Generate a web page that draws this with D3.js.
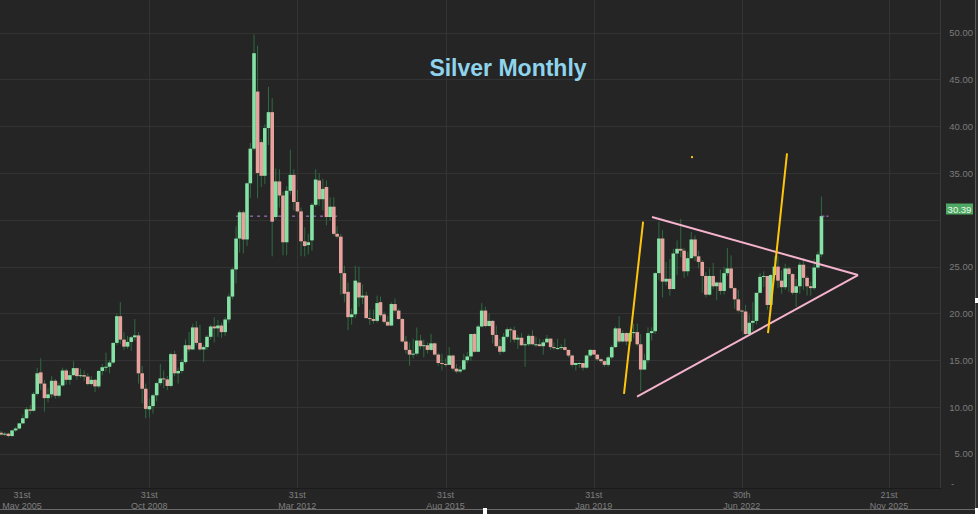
<!DOCTYPE html>
<html>
<head>
<meta charset="utf-8">
<script src="https://cdn.jsdelivr.net/npm/d3@7"></script>
<style>
  html, body { margin: 0; padding: 0; background: #252525; }
  svg { display: block; }
</style>
</head>
<body>
<div id="chart"></div>
<script>
// ---- DATA (monthly candles, first month Jun 2005) ----
const title = "Silver Monthly";
const firstMonth = [2005, 5]; // year, monthIndex (June 2005)
const opens = [
  // 2005 Jun-Dec
  7.25, 7.05, 7.15, 6.90, 7.50, 7.70, 8.25,
  // 2006
  8.80, 9.75, 9.60, 11.40, 13.70, 12.50, 10.95, 11.35, 12.80, 11.20, 12.30, 13.90,
  // 2007
  12.90, 13.40, 14.15, 13.30, 13.40, 13.25, 12.45, 12.90, 12.20, 13.85, 14.25, 14.30,
  // 2008
  14.75, 16.85, 19.70, 17.20, 16.45, 16.95, 17.45, 17.65, 13.60, 11.95, 9.75, 10.10,
  // 2009
  11.25, 12.55, 13.05, 12.95, 12.25, 15.65, 13.60, 13.85, 14.80, 16.60, 16.15, 18.50,
  // 2010
  16.85, 16.15, 16.40, 17.50, 18.60, 18.40, 18.70, 18.00, 19.35, 21.80, 24.70, 28.00,
  // 2011
  30.80, 27.90, 33.90, 37.60, 43.70, 38.30, 34.70, 39.80, 41.50, 30.30, 34.10, 32.60,
  // 2012
  27.60, 33.10, 34.80, 31.90, 30.90, 27.70, 27.30, 27.80, 31.60, 34.20, 32.20, 33.50,
  // 2013
  30.30, 31.40, 28.50, 28.20, 24.30, 22.30, 19.60, 19.90, 23.30, 21.70, 21.90, 19.50,
  // 2014
  19.40, 19.20, 21.20, 19.90, 19.10, 18.70, 21.00, 20.30, 19.40, 17.00, 16.10, 15.60,
  // 2015
  15.70, 17.10, 16.50, 16.60, 16.10, 16.80, 15.60, 14.70, 14.60, 14.50, 15.50, 14.10,
  // 2016
  13.80, 14.00, 15.00, 15.40, 17.80, 15.90, 18.60, 20.30, 18.65, 19.20, 17.70, 16.50,
  // 2017
  15.90, 17.50, 18.30, 18.20, 17.20, 17.40, 16.60, 16.70, 17.60, 16.70, 16.70, 16.50,
  // 2018
  16.90, 17.30, 16.40, 16.30, 16.30, 16.40, 16.10, 15.50, 14.50, 14.70, 14.70, 14.20,
  // 2019
  15.50, 16.10, 15.60, 15.10, 14.90, 14.50, 15.30, 16.40, 18.40, 17.00, 17.90, 17.00,
  // 2020
  17.90, 18.00, 16.70, 14.00, 15.00, 17.90, 18.10, 24.30, 28.00, 23.40, 23.70, 22.60,
  // 2021
  26.40, 26.90, 26.70, 24.50, 25.90, 27.90, 26.10, 25.50, 24.00, 22.00, 24.00, 22.90,
  // 2022
  23.30, 22.40, 24.30, 24.80, 22.70, 21.50, 20.30, 20.20, 17.80, 19.00, 19.20, 22.20,
  // 2023
  23.90, 24.00, 20.90, 24.10, 25.00, 23.50, 22.80, 24.80, 24.20, 22.20, 22.90, 25.20,
  // 2024 Jan-May
  23.80, 22.90, 22.70, 24.90, 26.30
];
const highs = [
  7.45, 7.30, 7.25, 7.55, 7.85, 8.35, 9.20,
  10.00, 10.20, 11.60, 14.20, 15.20, 12.90, 12.00, 13.30, 13.00, 12.60, 14.20, 14.10,
  13.80, 14.90, 14.20, 14.10, 13.90, 13.60, 13.30, 13.00, 13.95, 14.60, 15.80, 15.00,
  16.90, 20.00, 21.20, 18.00, 17.60, 17.60, 19.40, 18.00, 14.40, 12.50, 10.90, 11.40,
  12.70, 14.60, 13.90, 13.30, 15.80, 16.00, 14.20, 15.10, 17.20, 18.00, 18.90, 19.20,
  18.80, 16.60, 17.70, 18.80, 19.60, 19.30, 19.00, 19.60, 22.10, 24.90, 29.30, 31.00,
  31.00, 34.00, 38.20, 49.80, 48.60, 38.60, 40.20, 44.20, 43.00, 35.50, 35.40, 33.00,
  33.60, 37.50, 35.40, 33.20, 31.30, 29.20, 28.50, 31.80, 35.40, 35.00, 34.40, 34.20,
  32.40, 32.40, 29.30, 28.50, 25.10, 23.30, 20.50, 25.10, 25.00, 23.10, 22.30, 20.40,
  20.40, 21.90, 21.80, 20.20, 19.70, 21.20, 21.60, 20.50, 19.50, 17.60, 16.90, 17.30,
  18.50, 17.70, 17.20, 16.90, 17.80, 16.90, 15.80, 15.70, 15.20, 16.40, 15.60, 14.60,
  14.40, 15.70, 15.90, 17.80, 17.90, 18.80, 21.10, 20.70, 20.00, 19.30, 18.70, 17.30,
  17.90, 18.50, 18.50, 18.60, 17.70, 17.90, 16.90, 17.80, 18.20, 17.50, 17.30, 17.20,
  17.70, 17.40, 16.90, 17.30, 16.70, 17.30, 16.10, 15.60, 14.70, 14.80, 14.70, 15.60,
  16.20, 16.10, 15.60, 15.20, 15.00, 15.50, 16.60, 18.60, 19.70, 18.20, 18.00, 18.10,
  18.90, 18.90, 17.80, 15.70, 18.50, 18.50, 24.40, 29.80, 28.90, 25.50, 25.80, 26.90,
  27.80, 30.10, 27.00, 26.60, 28.70, 28.30, 26.70, 25.70, 24.40, 24.80, 25.40, 23.40,
  24.70, 25.00, 27.00, 26.20, 22.80, 22.50, 20.40, 20.90, 19.90, 21.20, 22.20, 24.30,
  24.50, 24.00, 24.20, 26.10, 26.10, 24.60, 25.30, 25.00, 24.30, 23.70, 25.50, 25.90,
  24.00, 23.40, 25.80, 26.60, 32.50
];
const lows = [
  6.95, 6.90, 6.75, 6.80, 7.35, 7.60, 8.20,
  8.75, 9.20, 9.50, 11.20, 11.80, 9.50, 10.50, 11.00, 10.90, 11.00, 12.20, 12.40,
  12.40, 13.30, 12.90, 13.10, 12.80, 12.30, 12.30, 11.60, 12.00, 13.40, 13.80, 13.60,
  14.60, 16.60, 16.70, 16.10, 16.20, 16.00, 17.10, 12.50, 10.40, 8.80, 8.90, 9.30,
  10.60, 12.30, 12.00, 11.80, 12.10, 13.30, 12.50, 13.60, 14.60, 15.90, 16.10, 16.60,
  16.00, 14.80, 16.10, 17.20, 16.90, 17.50, 17.40, 17.60, 19.00, 21.50, 23.20, 26.50,
  26.40, 27.20, 32.30, 37.40, 32.30, 33.50, 33.80, 38.00, 26.10, 30.00, 31.30, 26.20,
  26.20, 32.70, 31.00, 30.80, 26.10, 26.10, 26.30, 26.70, 31.40, 31.50, 31.00, 29.40,
  29.90, 28.30, 28.00, 22.00, 21.20, 18.20, 18.80, 19.50, 20.70, 21.00, 19.40, 18.80,
  18.90, 19.00, 19.60, 18.90, 18.70, 18.70, 20.10, 19.30, 16.90, 15.70, 14.40, 15.20,
  15.50, 16.20, 15.30, 15.70, 16.00, 15.50, 14.40, 13.90, 14.30, 14.50, 13.90, 13.60,
  13.60, 13.90, 14.70, 14.90, 15.80, 15.90, 18.50, 18.50, 18.60, 16.80, 16.30, 15.60,
  15.80, 17.30, 16.90, 16.90, 16.20, 16.50, 14.30, 16.50, 16.60, 16.40, 16.50, 15.60,
  16.90, 16.10, 16.10, 16.10, 16.10, 16.00, 15.30, 14.30, 13.90, 14.20, 13.90, 14.10,
  15.30, 15.60, 14.90, 14.70, 14.30, 14.30, 15.10, 16.30, 16.80, 16.90, 16.60, 16.70,
  17.40, 16.50, 11.70, 14.00, 14.70, 17.10, 17.80, 23.50, 21.70, 23.00, 21.90, 22.60,
  24.10, 26.00, 23.80, 24.00, 25.80, 25.60, 24.80, 22.20, 21.70, 21.90, 22.60, 21.40,
  22.00, 22.00, 24.00, 22.60, 20.50, 20.10, 18.10, 17.60, 17.60, 18.10, 18.80, 22.10,
  22.80, 20.40, 19.90, 23.60, 22.70, 22.10, 22.50, 22.30, 22.00, 20.70, 22.10, 22.50,
  21.90, 21.90, 22.50, 24.70, 26.00
];
const closes = [
  7.05, 7.15, 6.90, 7.50, 7.70, 8.25, 8.80,
  9.75, 9.60, 11.40, 13.60, 12.50, 10.95, 11.35, 12.80, 11.20, 12.30, 13.90, 12.90,
  13.40, 14.15, 13.30, 13.40, 13.25, 12.45, 12.90, 12.20, 13.85, 14.25, 14.30, 14.75,
  16.85, 19.70, 17.20, 16.45, 16.95, 17.45, 17.65, 13.60, 11.95, 9.80, 10.10, 11.25,
  12.55, 13.05, 12.95, 12.25, 15.65, 13.60, 13.85, 14.80, 16.60, 16.15, 18.50, 16.85,
  16.15, 16.40, 17.50, 18.60, 18.40, 18.70, 18.00, 19.35, 21.80, 24.70, 28.00, 30.80,
  27.90, 33.90, 37.60, 47.80, 35.00, 34.70, 39.80, 41.50, 29.80, 34.10, 32.60, 27.60,
  33.10, 34.80, 31.90, 30.90, 27.70, 27.20, 27.60, 31.60, 34.30, 32.20, 33.30, 30.30,
  31.40, 28.50, 28.20, 24.30, 22.10, 19.60, 19.90, 23.50, 21.70, 21.90, 19.50, 19.40,
  19.20, 21.10, 19.80, 19.10, 18.70, 21.00, 20.30, 19.40, 17.00, 16.10, 15.60, 15.70,
  17.10, 16.50, 16.60, 16.10, 16.80, 15.60, 14.70, 14.60, 14.50, 15.50, 14.10, 13.80,
  14.00, 15.00, 15.40, 17.80, 15.90, 18.60, 20.30, 18.65, 19.20, 17.70, 16.50, 15.90,
  17.50, 18.30, 18.20, 17.20, 17.40, 16.60, 16.70, 17.60, 16.70, 16.70, 16.50, 16.90,
  17.30, 16.40, 16.30, 16.30, 16.40, 16.10, 15.50, 14.50, 14.70, 14.70, 14.20, 15.50,
  16.10, 15.60, 15.10, 14.90, 14.50, 15.30, 16.40, 18.40, 17.00, 17.90, 17.00, 17.90,
  18.00, 16.70, 14.00, 15.00, 17.90, 18.10, 24.30, 28.00, 23.40, 23.70, 22.60, 26.40,
  26.90, 26.70, 24.50, 25.90, 27.90, 26.10, 25.50, 24.00, 22.00, 24.00, 22.90, 23.30,
  22.40, 24.30, 24.80, 22.70, 21.50, 20.30, 20.20, 17.80, 19.00, 19.20, 22.20, 23.90,
  24.00, 20.90, 24.10, 25.00, 23.50, 22.80, 24.80, 24.20, 22.20, 22.90, 25.20, 23.80,
  22.90, 22.70, 24.90, 26.30, 30.39
];
const lastPrice = 30.39;
const yTicks = [5, 10, 15, 20, 25, 30, 35, 40, 45, 50];
const xTickDates = ["2008-10-31", "2012-03-31", "2015-08-31", "2019-01-31", "2022-06-30", "2025-11-21"];
const xTickLabels = [
  ["31st", "May 2005"], ["31st", "Oct 2008"], ["31st", "Mar 2012"], ["31st", "Aug 2015"],
  ["31st", "Jan 2019"], ["30th", "Jun 2022"], ["21st", "Nov 2025"]
];
// Annotations (date, price)
const orangeLines = [
  [["2019-10-12", 11.4], ["2020-03-21", 29.8]],
  [["2023-02-06", 17.9], ["2023-07-16", 37.1]]
];
const orangeDot = ["2021-05-07", 36.7];
const pinkLines = [
  [["2020-06-04", 30.3], ["2025-03-05", 24.1]],
  [["2020-01-30", 11.1], ["2025-03-05", 24.1]]
];
const priceLineSpan = ["2010-11-01", "2013-03-01"];

// ---- LAYOUT ----
const W = 978, H = 514;
const plotRight = 940, plotBottom = 488;
const font = "'Liberation Sans', Arial, Helvetica, sans-serif";
const parse = d3.utcParse("%Y-%m-%d");
const pd = s => { const d = parse(s); return new Date(d.getUTCFullYear(), d.getUTCMonth(), d.getUTCDate()); };

const x = d3.scaleTime()
  .domain([new Date(2005, 4, 31), new Date(2025, 10, 21)])
  .range([1, 889]);
const y = d3.scaleLinear().domain([0, 50]).range([500.6, 32.6]);

const candles = closes.map((c, i) => ({
  date: new Date(firstMonth[0], firstMonth[1] + i, 1),
  o: opens[i], h: highs[i], l: lows[i], c: c
}));

const svg = d3.select("#chart").append("svg")
  .attr("width", W).attr("height", H);

svg.append("rect").attr("width", W).attr("height", H).attr("fill", "#252525");

// clip
svg.append("defs").append("clipPath").attr("id", "plotclip")
  .append("rect").attr("x", 0).attr("y", 0).attr("width", plotRight).attr("height", plotBottom);

// grid
const grid = svg.append("g");
grid.selectAll("line.h").data(yTicks).join("line")
  .attr("x1", 0).attr("x2", plotRight)
  .attr("y1", d => Math.round(y(d)) + 0.5).attr("y2", d => Math.round(y(d)) + 0.5)
  .attr("stroke", "#333333").attr("stroke-width", 1);
grid.selectAll("line.v").data(xTickDates).join("line")
  .attr("y1", 0).attr("y2", plotBottom)
  .attr("x1", d => Math.round(x(pd(d))) + 0.5).attr("x2", d => Math.round(x(pd(d))) + 0.5)
  .attr("stroke", "#333333").attr("stroke-width", 1);

// title
svg.append("text").attr("x", 508).attr("y", 76)
  .attr("text-anchor", "middle")
  .attr("font-family", font).attr("font-weight", "bold").attr("font-size", 23)
  .attr("fill", "#8fd4ec").text(title);

const plot = svg.append("g").attr("clip-path", "url(#plotclip)");

// dashed price line segment
plot.append("line")
  .attr("x1", x(pd(priceLineSpan[0]))).attr("x2", x(pd(priceLineSpan[1])))
  .attr("y1", y(lastPrice)).attr("y2", y(lastPrice))
  .attr("stroke", "#b585dc").attr("stroke-width", 1).attr("stroke-dasharray", "3,4");

// candles
const bw = 3.6;
const cg = plot.selectAll("g.c").data(candles).join("g");
cg.append("line")
  .attr("x1", d => x(d.date)).attr("x2", d => x(d.date))
  .attr("y1", d => y(d.h)).attr("y2", d => y(d.l))
  .attr("stroke", "#2f6a41").attr("stroke-width", 1);
cg.append("rect")
  .attr("x", d => x(d.date) - bw / 2)
  .attr("width", bw)
  .attr("y", d => y(Math.max(d.o, d.c)))
  .attr("height", d => Math.max(1, Math.abs(y(d.o) - y(d.c))))
  .attr("fill", d => d.c >= d.o ? "#84e2a5" : "#e7a29d");

// price line tick by last candle
const lastC = candles[candles.length - 1];
plot.append("line")
  .attr("x1", x(lastC.date)).attr("x2", x(lastC.date) + 7)
  .attr("y1", y(lastPrice)).attr("y2", y(lastPrice))
  .attr("stroke", "#b585dc").attr("stroke-width", 1).attr("stroke-dasharray", "3,2");

// annotations
const line = d3.line().x(d => x(pd(d[0]))).y(d => y(d[1]));
plot.selectAll("path.pink").data(pinkLines).join("path")
  .attr("d", line).attr("fill", "none")
  .attr("stroke", "#f5b3cd").attr("stroke-width", 2);
plot.selectAll("path.orange").data(orangeLines).join("path")
  .attr("d", line).attr("fill", "none")
  .attr("stroke", "#ffc40c").attr("stroke-width", 2);
plot.append("rect")
  .attr("x", x(pd(orangeDot[0])) - 1).attr("y", y(orangeDot[1]) - 1)
  .attr("width", 2).attr("height", 2).attr("fill", "#ffc40c");

// frame lines
svg.append("line").attr("x1", plotRight + 0.5).attr("x2", plotRight + 0.5)
  .attr("y1", 0).attr("y2", plotBottom).attr("stroke", "#3a3a3a");
svg.append("line").attr("x1", 0).attr("x2", plotRight + 1)
  .attr("y1", plotBottom + 0.5).attr("y2", plotBottom + 0.5).attr("stroke", "#1b1b1b");
svg.append("rect").attr("x", 975).attr("y", 0).attr("width", 3).attr("height", H).attr("fill", "#2c2c2c");
svg.append("line").attr("x1", 975.5).attr("x2", 975.5)
  .attr("y1", 0).attr("y2", 509).attr("stroke", "#5c5c5c");

// y axis labels
const ya = svg.append("g");
ya.selectAll("text").data(yTicks.filter(t => t !== 30)).join("text")
  .attr("x", 973).attr("y", d => y(d) + 3.5)
  .attr("text-anchor", "end")
  .attr("font-family", font).attr("font-size", 9.5)
  .attr("fill", "#7b7b7b").text(d => d3.format(".2f")(d));
ya.append("text").attr("x", 951).attr("y", plotBottom - 1)
  .attr("font-family", font).attr("font-size", 9.5).attr("fill", "#7b7b7b").text("-");

// last price label
ya.append("rect").attr("x", 946).attr("y", 203.5).attr("width", 27).attr("height", 11)
  .attr("fill", "#4fa863");
ya.append("text").attr("x", 959.5).attr("y", 212.5)
  .attr("text-anchor", "middle")
  .attr("font-family", font).attr("font-size", 9.5)
  .attr("fill", "#eef8ee").text(d3.format(".2f")(lastPrice));

// x axis labels
const xPos = [22].concat(xTickDates.map(d => x(pd(d))));
const xa = svg.append("g");
xTickLabels.forEach((lab, i) => {
  xa.append("text").attr("x", xPos[i]).attr("y", 498)
    .attr("text-anchor", "middle").attr("font-family", font).attr("font-size", 9)
    .attr("fill", "#7f7f7f").text(lab[0]);
  xa.append("text").attr("x", xPos[i]).attr("y", 508.5)
    .attr("text-anchor", "middle").attr("font-family", font).attr("font-size", 9)
    .attr("fill", "#7f7f7f").text(lab[1]);
});

// bottom border
svg.append("rect").attr("x", 0).attr("y", 509).attr("width", 976).attr("height", 5).attr("fill", "#252525");
svg.append("line").attr("x1", 0).attr("x2", 976).attr("y1", 509.5).attr("y2", 509.5).attr("stroke", "#6a6a6a");
svg.append("rect").attr("x", 483).attr("y", 508).attr("width", 4).attr("height", 6).attr("fill", "#ffffff");
svg.append("rect").attr("x", 975).attr("y", 508).attr("width", 3).attr("height", 6).attr("fill", "#ffffff");
svg.append("rect").attr("x", 975).attr("y", 298).attr("width", 3).attr("height", 5).attr("fill", "#ffffff");
</script>
</body>
</html>
